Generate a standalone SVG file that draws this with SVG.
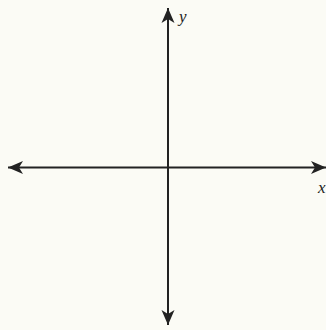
<svg xmlns="http://www.w3.org/2000/svg" width="326" height="330" viewBox="0 0 326 330">
<style>
.ax{stroke:#222;stroke-width:2;fill:none}
.lbl{font-family:"Liberation Serif",serif;font-style:italic;font-size:17px;fill:#222}
</style>
<defs>
<marker id="ah" markerWidth="16" markerHeight="14" refX="15" refY="7" orient="auto-start-reverse" markerUnits="userSpaceOnUse">
<path d="M15,7 L0,0.5 L4,7 L0,13.5 Z" fill="#222"/>
</marker>
</defs>
<rect width="326" height="330" fill="#fbfbf5"/>
<g id="connectors">
<line class="ax" x1="168" y1="8" x2="168" y2="325" marker-start="url(#ah)" marker-end="url(#ah)"/>
<line class="ax" x1="8" y1="167.5" x2="326" y2="167.5" marker-start="url(#ah)" marker-end="url(#ah)"/>
</g>
<g id="y-label"><text class="lbl" x="179" y="22">y</text></g>
<g id="x-label"><text class="lbl" x="318" y="193">x</text></g>
</svg>
